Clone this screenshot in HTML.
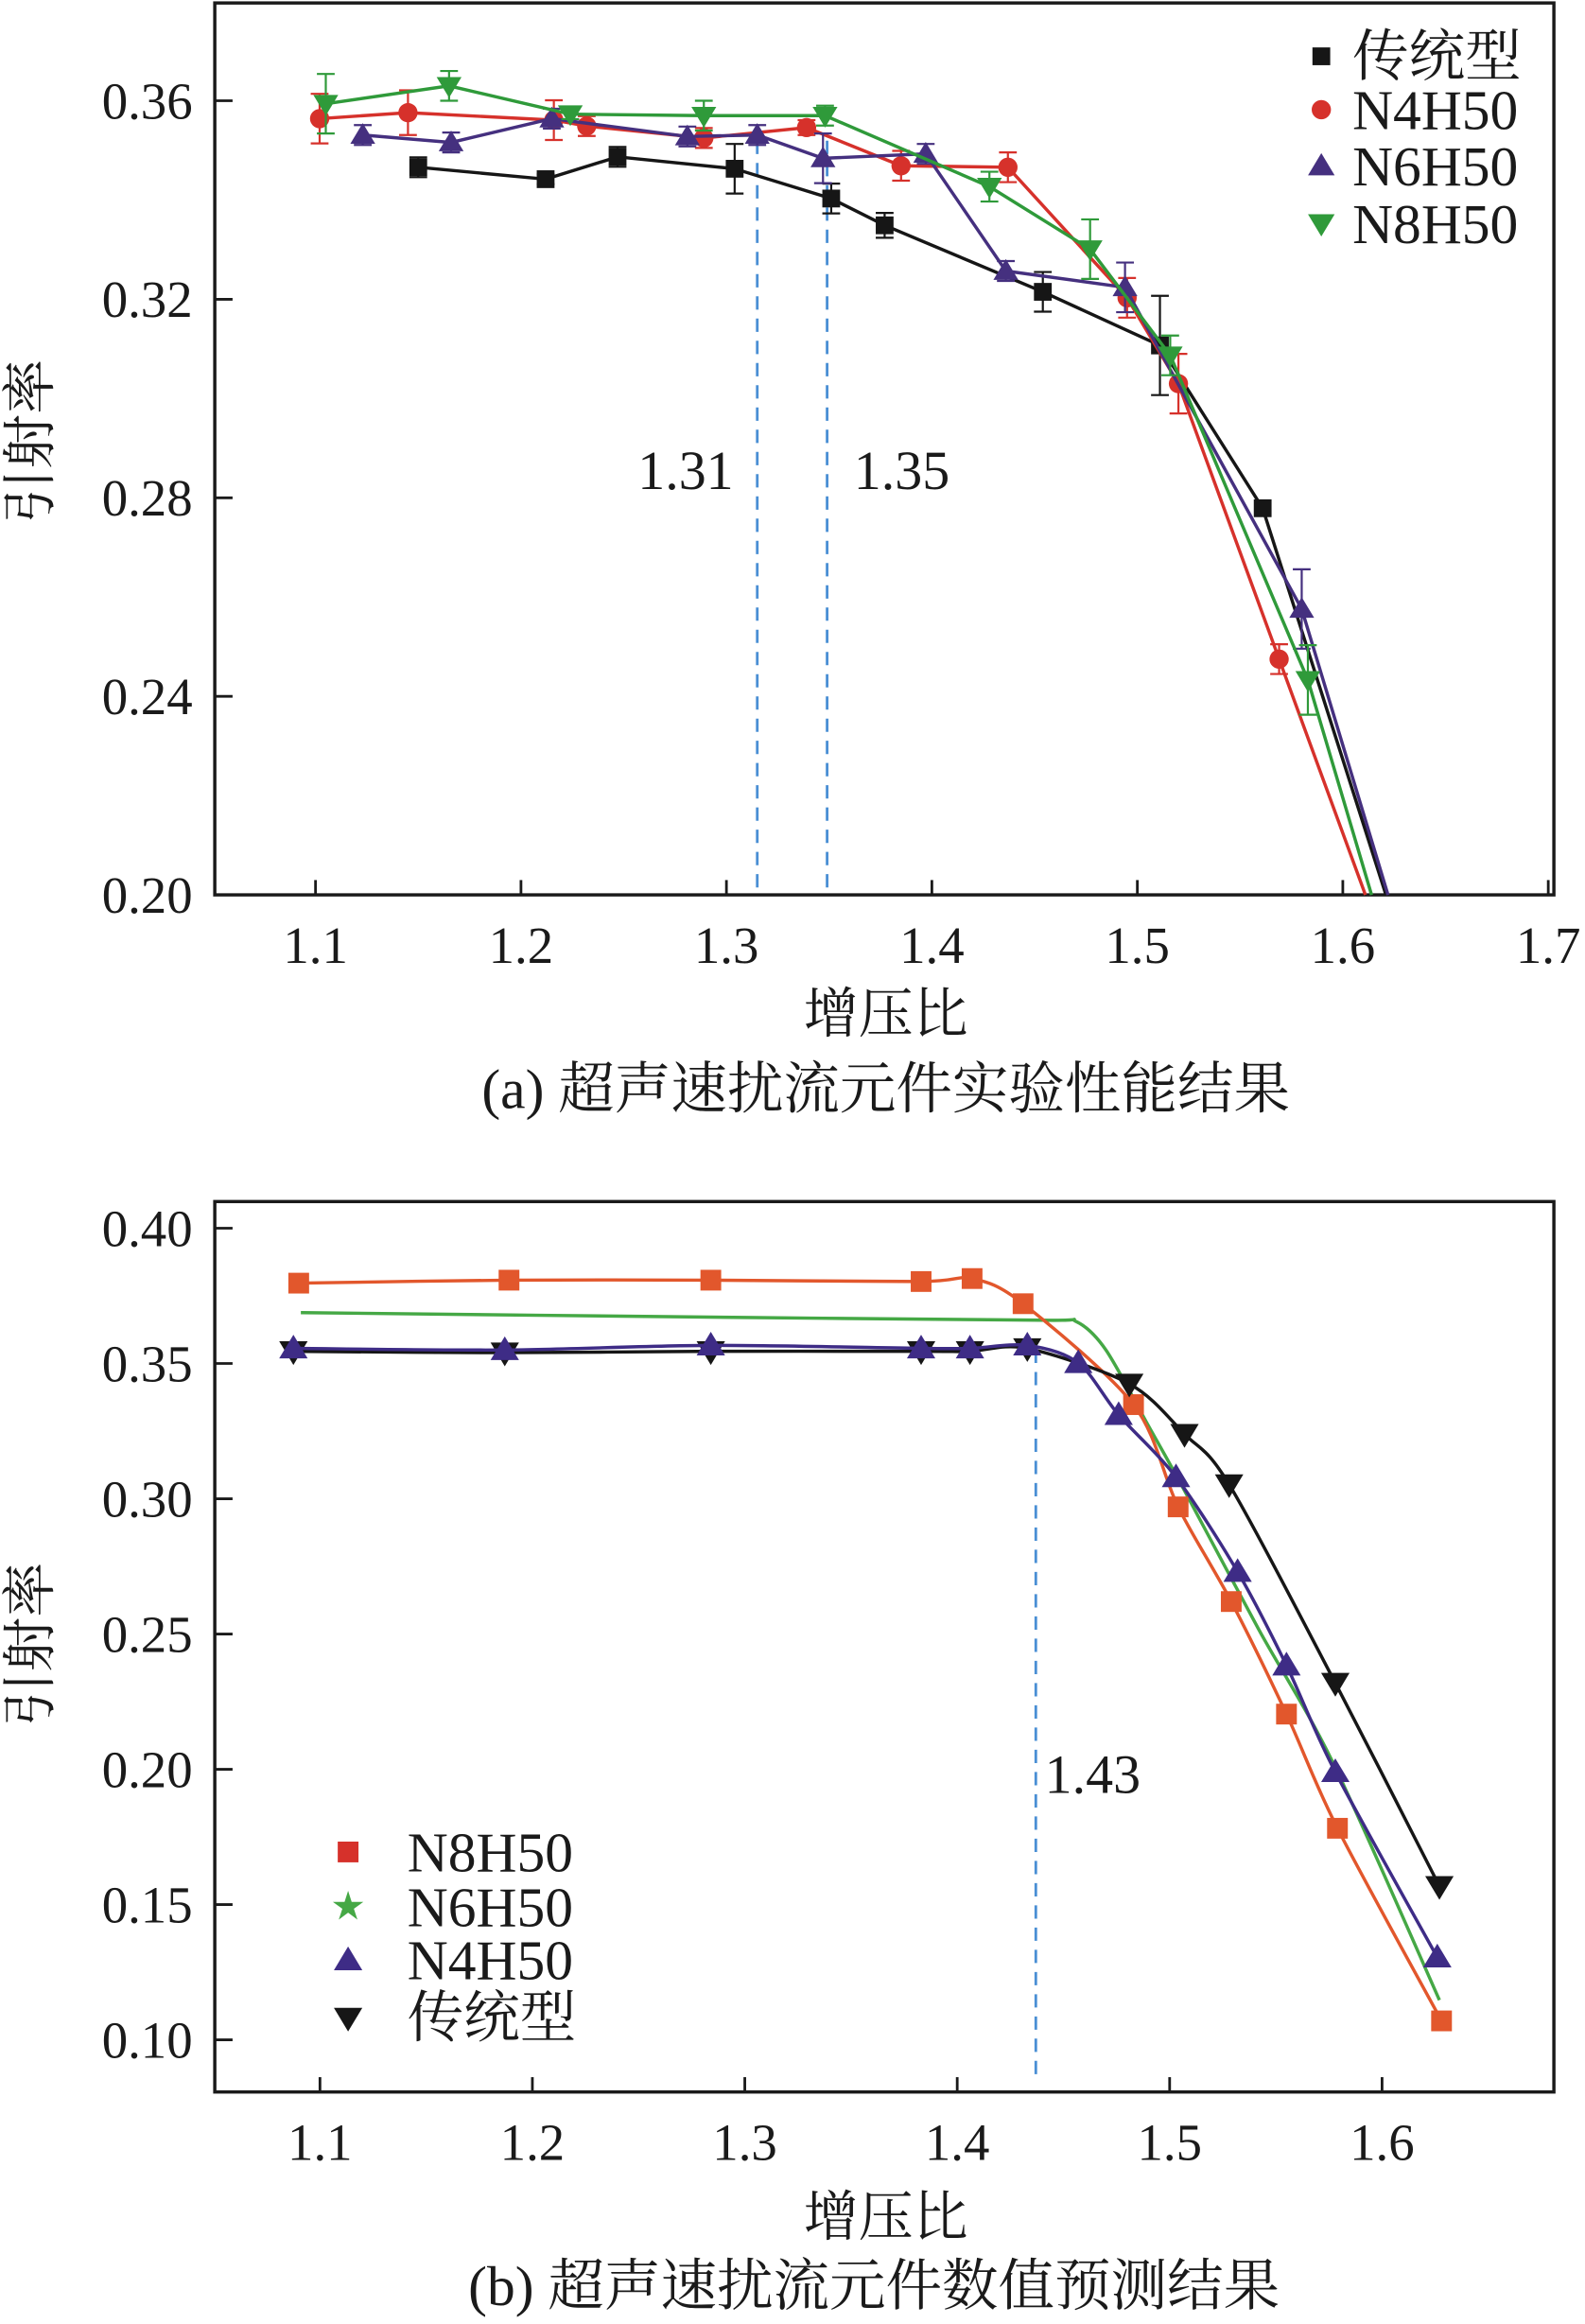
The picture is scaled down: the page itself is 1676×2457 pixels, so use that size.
<!DOCTYPE html>
<html><head><meta charset="utf-8">
<style>
html,body{margin:0;padding:0;background:#fff;}
svg{display:block;}
text{font-family:"Liberation Serif","Noto Serif CJK SC",serif;fill:#1a1a1a;}
</style></head>
<body>
<svg id="fig" width="1676" height="2457" viewBox="0 0 1070 1568.6" xmlns="http://www.w3.org/2000/svg"></svg>
<script>
// ---------- Chart (a) data ----------
const aTradX=[1.150,1.212,1.247,1.304,1.351,1.377,1.454,1.511,1.561,1.621];
const aTradY=[0.3466,0.3442,0.3487,0.3463,0.3403,0.3349,0.3215,0.3107,0.2779,0.200];
const aTradE=[0.002,0.001,0.002,0.005,0.003,0.0025,0.004,0.010,0,0];
const aN4X=[1.102,1.145,1.216,1.232,1.289,1.339,1.385,1.437,1.495,1.520,1.569,1.611];
const aN4Y=[0.3564,0.3576,0.3561,0.3549,0.3525,0.3546,0.3469,0.3466,0.3203,0.3030,0.2475,0.200];
const aN4E=[0.005,0.0045,0.004,0.002,0.002,0.0015,0.003,0.003,0.004,0.006,0.003,0];
const aN6X=[1.123,1.166,1.215,1.281,1.315,1.347,1.397,1.436,1.494,1.580,1.622];
const aN6Y=[0.3531,0.3516,0.3564,0.3528,0.3531,0.3484,0.3493,0.3257,0.3224,0.2576,0.200];
const aN6E=[0.002,0.002,0.002,0.002,0.002,0.005,0.002,0.002,0.005,0.008,0];
const aN8X=[1.105,1.165,1.224,1.289,1.348,1.428,1.477,1.516,1.583,1.614];
const aN8Y=[0.3594,0.3630,0.3573,0.3570,0.3570,0.3427,0.3301,0.3087,0.2433,0.200];
const aN8E=[0.006,0.003,0.001,0.003,0.002,0.003,0.006,0.004,0.007,0];
const aXTicks=[1.1,1.2,1.3,1.4,1.5,1.6,1.7];
const aYTicks=[0.20,0.24,0.28,0.32,0.36];
const aDash=[1.315,1.349];
const aDashLabels=["1.31","1.35"];

// ---------- Chart (b) data ----------
const bN8X=[1.090,1.189,1.284,1.383,1.407,1.431,1.483,1.504,1.529,1.555,1.579,1.628];
const bN8Y=[0.3797,0.3808,0.3808,0.3803,0.3814,0.3721,0.3348,0.2970,0.2620,0.2204,0.1782,0.107];
const bN6X=[1.091,1.300,1.440,1.456,1.470,1.490,1.507,1.542,1.577,1.627];
const bN6Y=[0.3688,0.3670,0.3660,0.3655,0.3550,0.3270,0.3030,0.2516,0.2023,0.1147];
const bN4X=[1.0875,1.187,1.284,1.383,1.406,1.433,1.457,1.476,1.503,1.532,1.555,1.578,1.626];
const bN4Y=[0.3556,0.3550,0.3567,0.3556,0.3556,0.3567,0.3502,0.3310,0.3080,0.2730,0.2384,0.1990,0.1305];
const bTrX=[1.0875,1.187,1.284,1.383,1.406,1.433,1.481,1.507,1.528,1.578,1.627];
const bTrY=[0.3545,0.3540,0.3545,0.3545,0.3545,0.3556,0.3425,0.3239,0.3053,0.2319,0.1568];
const bXTicks=[1.1,1.2,1.3,1.4,1.5,1.6];
const bYTicks=[0.10,0.15,0.20,0.25,0.30,0.35,0.40];
const bDash=[1.437];
const bDashLabels=["1.43"];

const NS="http://www.w3.org/2000/svg";
const svg=document.getElementById('fig');
function mk(tag,attrs,parent){const e=document.createElementNS(NS,tag);for(const k in attrs)e.setAttribute(k,attrs[k]);(parent||svg).appendChild(e);return e;}

const ax={x:v=>213+(v-1.1)/0.1*138.7, y:v=>68+(0.36-v)/0.04*134, L:145,R:1049,T:2,B:604};
const bx={x:v=>216+(v-1.1)/0.1*143.4, y:v=>829+(0.40-v)/0.05*91.3, L:145,R:1049,T:811,B:1412};

function marker(g,type,cx,cy,color,s){
  let e;
  if(type==='square'){e=mk('rect',{x:cx-s,y:cy-s,width:2*s,height:2*s,fill:color},g);}
  else if(type==='circle'){e=mk('circle',{cx:cx,cy:cy,r:s,fill:color},g);}
  else if(type==='up'){e=mk('polygon',{points:`${cx},${cy-s*1.15} ${cx-s*1.2},${cy+s*0.85} ${cx+s*1.2},${cy+s*0.85}`,fill:color},g);}
  else if(type==='down'){e=mk('polygon',{points:`${cx},${cy+s*1.15} ${cx-s*1.2},${cy-s*0.85} ${cx+s*1.2},${cy-s*0.85}`,fill:color},g);}
  else if(type==='star'){let p=[];for(let i=0;i<10;i++){const r=i%2?s*0.45:s*1.2;const a=-Math.PI/2+i*Math.PI/5;p.push((cx+r*Math.cos(a)).toFixed(1)+','+(cy+r*Math.sin(a)).toFixed(1));}e=mk('polygon',{points:p.join(' '),fill:color},g);}
  return e;
}
function smoothPath(pts){
  let d=`M${pts[0][0]},${pts[0][1]}`;
  for(let i=0;i<pts.length-1;i++){
    const p0=pts[Math.max(i-1,0)],p1=pts[i],p2=pts[i+1],p3=pts[Math.min(i+2,pts.length-1)];
    const t=0.15;
    const c1=[p1[0]+(p2[0]-p0[0])*t,p1[1]+(p2[1]-p0[1])*t];
    const c2=[p2[0]-(p3[0]-p1[0])*t,p2[1]-(p3[1]-p1[1])*t];
    d+=` C${c1[0]},${c1[1]} ${c2[0]},${c2[1]} ${p2[0]},${p2[1]}`;
  }
  return d;
}
function frame(A,xt,yt,xfmt,yfmt,name){
  const g=mk('g',{});
  
  
  const r=mk('rect',{x:A.L,y:A.T,width:A.R-A.L,height:A.B-A.T,fill:'none',stroke:'#1a1a1a','stroke-width':2.2},g);
  
  
  xt.forEach(v=>{
    const x=A.x(v);
    const l=mk('line',{x1:x,x2:x,y1:A.B,y2:A.B-10,stroke:'#1a1a1a','stroke-width':1.8},g);
    
    
    const t=mk('text',{x:x,y:A.B+46,'text-anchor':'middle','font-size':35},g);
    t.textContent=xfmt(v);
    
    
  });
  yt.forEach(v=>{
    const y=A.y(v);
    const l=mk('line',{x1:A.L,x2:A.L+12,y1:y,y2:y,stroke:'#1a1a1a','stroke-width':1.8},g);
    
    
    const t=mk('text',{x:130,y:y+12,'text-anchor':'end','font-size':35},g);
    t.textContent=yfmt(v);
    
    
  });
}
function series(A,xs,ys,es,color,type,name,size,smooth,markerCount){
  const g=mk('g',{});
  
  
  const pts=xs.map((v,i)=>[A.x(v),A.y(ys[i])]);
  const p=mk('path',{d:smooth?smoothPath(pts):'M'+pts.map(q=>q.join(',')).join(' L'),fill:'none',stroke:color,'stroke-width':2.2},g);
  
  
  const n=markerCount==null?xs.length:markerCount;
  for(let i=0;i<n;i++){
    if(es&&es[i]>0){
      const x=pts[i][0],y1=A.y(ys[i]+es[i]),y2=A.y(ys[i]-es[i]);
      const eb=mk('path',{d:`M${x},${y1} V${y2} M${x-6},${y1} H${x+6} M${x-6},${y2} H${x+6}`,stroke:color,'stroke-width':1.4,fill:'none'},g);
      
      
    }
    const m=marker(g,type,pts[i][0],pts[i][1],color,size);
    
    
  }
}
function dashes(A,vals,labels,y1,labelY,offsets){
  vals.forEach((v,i)=>{
    const x=A.x(v);
    const l=mk('line',{x1:x,x2:x,y1:y1,y2:A.B-(A===bx?12:0),stroke:'#4a8fd4','stroke-width':1.8,'stroke-dasharray':'9,6'});
    
    
    const off=offsets[i];
    const t=mk('text',{x:x+off,y:labelY,'text-anchor':off<0?'end':'start','font-size':37});
    t.textContent=labels[i];
    
    
  });
}
function legend(items,mx,tx,ys,name){
  const g=mk('g',{});
  
  
  items.forEach((it,i)=>{
    const m=marker(g,it[2],mx,ys[i],it[1],it[3]);
    
    
    const t=mk('text',{x:tx,y:ys[i]+13,'font-size':38},g);
    t.textContent=it[0];
    
    
  });
}
function text(x,y,s,size,name,rot){
  const t=mk('text',{x:x,y:y,'text-anchor':'middle','font-size':size});
  if(rot)t.setAttribute('transform',`rotate(-90 ${x} ${y})`);
  t.textContent=s;
  
  
}

// ---- Chart a ----
frame(ax,aXTicks,aYTicks,v=>v.toFixed(1),v=>v.toFixed(2),'chart-a');
dashes(ax,aDash,aDashLabels,95,330,[-16,18]);
series(ax,aTradX,aTradY,aTradE,'#161616','square','a-series-traditional',6,false,aTradX.length-1);
series(ax,aN4X,aN4Y,aN4E,'#d6312b','circle','a-series-n4h50',6.5,false,aN4X.length-1);
series(ax,aN6X,aN6Y,aN6E,'#45307f','up','a-series-n6h50',7,false,aN6X.length-1);
series(ax,aN8X,aN8Y,aN8E,'#2f9a3a','down','a-series-n8h50',7,false,aN8X.length-1);
legend([['传统型','#161616','square',6],['N4H50','#d6312b','circle',6.5],['N6H50','#45307f','up',7.5],['N8H50','#2f9a3a','down',7.5]],892,913,[38,74,112,151],'chart-a-legend');
text(598,697,'增压比',37,'chart-a-x-axis-title');
text(598,748,'(a) 超声速扰流元件实验性能结果',38,'chart-a-caption');
text(33,298,'引射率',37,'chart-a-y-axis-title',true);

// ---- Chart b ----
frame(bx,bXTicks,bYTicks,v=>v.toFixed(1),v=>v.toFixed(2),'chart-b');
dashes(bx,bDash,bDashLabels,911,1210,[6]);
series(bx,bN6X,bN6Y,null,'#45a845','star','b-series-n6h50',0,true,0);
series(bx,bN8X,bN8Y,null,'#e2572c','square','b-series-n8h50',7,true);
series(bx,bTrX,bTrY,null,'#161616','down','b-series-traditional',8,true);
series(bx,bN4X,bN4Y,null,'#3e2c86','up','b-series-n4h50',8,true);
legend([['N8H50','#d6312b','square',7],['N6H50','#45a845','star',9],['N4H50','#3e2c86','up',8],['传统型','#161616','down',8]],235,275,[1250,1287,1323,1362],'chart-b-legend');
text(598,1509,'增压比',37,'chart-b-x-axis-title');
text(590,1556,'(b) 超声速扰流元件数值预测结果',38,'chart-b-caption');
text(33,1110,'引射率',37,'chart-b-y-axis-title',true);
</script>
</body></html>
